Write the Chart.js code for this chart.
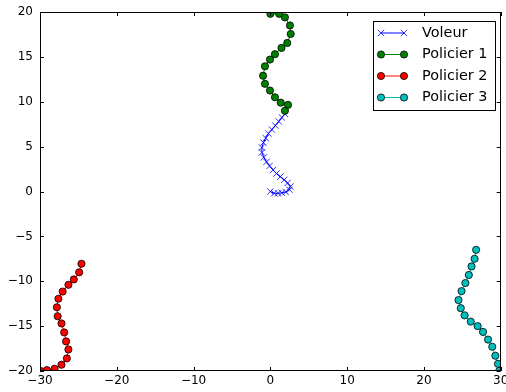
<!DOCTYPE html>
<html><head><meta charset="utf-8">
<script src="https://cdn.jsdelivr.net/npm/chart.js@4"></script>
<style>html,body{margin:0;padding:0;background:#fff;}</style>
</head><body>
<canvas id="c" width="506" height="392" style="display:block;width:506px;height:392px"></canvas>
<script>
const seriesNames = ['Voleur', 'Policier 1', 'Policier 2', 'Policier 3'];

const voleurX = [0, 0.5, 1.0, 1.5, 2.0, 2.5, 2.6, 2.25, 1.8, 1.3, 0.8, 0.35, -0.1, -0.5, -0.85, -1.1, -1.1, -0.9, -0.6, -0.25, 0.2, 0.65, 1.1, 1.5, 1.9];
const voleurY = [0, -0.2, -0.2, -0.15, -0.05, 0.2, 0.55, 0.95, 1.3, 1.65, 2.0, 2.4, 2.85, 3.3, 3.8, 4.35, 4.9, 5.45, 5.95, 6.45, 6.9, 7.35, 7.8, 8.25, 8.65];

const policier1X = [0.0, 1.15, 1.9, 2.55, 2.65, 2.2, 1.45, 0.6, -0.05, -0.7, -0.95, -0.7, -0.05, 0.6, 1.35, 2.3, 1.9];
const policier1Y = [19.8, 19.8, 19.4, 18.5, 17.55, 16.55, 16.0, 15.3, 14.7, 13.95, 12.9, 12.0, 11.25, 10.5, 9.9, 9.65, 9.0];

const policier2X = [-24.6, -24.9, -25.6, -26.3, -27.05, -27.6, -27.8, -27.7, -27.2, -26.85, -26.6, -26.3, -26.5, -27.2, -28.1, -29.1, -29.9];
const policier2Y = [-8.05, -9.0, -9.8, -10.4, -11.15, -11.95, -12.9, -13.9, -14.7, -15.7, -16.7, -17.6, -18.6, -19.3, -19.75, -19.9, -20.0];

const policier3X = [26.8, 26.6, 26.2, 25.85, 25.4, 24.9, 24.5, 24.8, 25.3, 26.1, 27.0, 27.7, 28.35, 28.9, 29.3, 29.65, 29.8];
const policier3Y = [-6.5, -7.5, -8.35, -9.3, -10.2, -11.1, -12.1, -13.0, -13.8, -14.5, -15.0, -15.65, -16.5, -17.3, -18.3, -19.2, -20.0];

const xTicks = [-30, -20, -10, 0, 10, 20, 30];
const yTicks = [-20, -15, -10, -5, 0, 5, 10, 15, 20];

const colors = ['#0000ff', '#008000', '#ff0000', '#00bfbf'];

function pts(xs, ys) { return xs.map((x, i) => ({ x: x, y: ys[i] })); }
function fmt(v) { return v < 0 ? '\u2212' + Math.abs(v) : String(v); }

const circleDs = (label, data, color) => ({
  label, data, showLine: true, borderColor: color, borderWidth: 1,
  pointStyle: 'circle', pointRadius: 3.6, pointHoverRadius: 3.6,
  pointBackgroundColor: color, pointBorderColor: '#000', pointBorderWidth: 0.8,
  clip: 0, order: 0
});

const datasets = [
  { label: seriesNames[0], data: pts(voleurX, voleurY), showLine: true, borderColor: colors[0], borderWidth: 1,
    pointStyle: 'crossRot', pointRadius: 4.5, pointHoverRadius: 4.5, pointBorderColor: colors[0], pointBorderWidth: 0.8,
    clip: 0, order: 1 },
  circleDs(seriesNames[1], pts(policier1X, policier1Y), colors[1]),
  circleDs(seriesNames[2], pts(policier2X, policier2Y), colors[2]),
  circleDs(seriesNames[3], pts(policier3X, policier3Y), colors[3])
];

const framePlugin = {
  id: 'frame',
  afterDatasetsDraw(chart) {
    const { ctx, chartArea: a, scales: { x, y } } = chart;
    ctx.save();
    ctx.strokeStyle = '#000';
    ctx.lineWidth = 1;
    ctx.beginPath();
    xTicks.forEach(v => {
      const px = Math.round(x.getPixelForValue(v)) + 0.5;
      ctx.moveTo(px, a.bottom); ctx.lineTo(px, a.bottom - 4);
      ctx.moveTo(px, a.top); ctx.lineTo(px, a.top + 4);
    });
    yTicks.forEach(v => {
      const py = Math.round(y.getPixelForValue(v)) + 0.5;
      ctx.moveTo(a.left, py); ctx.lineTo(a.left + 4, py);
      ctx.moveTo(a.right, py); ctx.lineTo(a.right - 4, py);
    });
    ctx.stroke();
    ctx.strokeRect(Math.round(a.left) + 0.5, Math.round(a.top) + 0.5, Math.round(a.right - a.left) - 1, Math.round(a.bottom - a.top) - 1);
    ctx.restore();
  },
  afterDraw(chart) {
    const { ctx, chartArea: a } = chart;
    const left = Math.round(a.right) - 128, right = Math.round(a.right) - 6;
    const top = Math.round(a.top) + 9, bottom = Math.round(a.top) + 98;
    ctx.save();
    ctx.fillStyle = '#fff';
    ctx.fillRect(left, top, right - left, bottom - top);
    ctx.strokeStyle = '#000';
    ctx.lineWidth = 1;
    ctx.strokeRect(left + 0.5, top + 0.5, right - left, bottom - top);
    chart.data.datasets.forEach((ds, i) => {
      const cy = top + 12 + i * 21.5;
      const x1 = left + 8, x2 = left + 31;
      ctx.strokeStyle = ds.borderColor;
      ctx.lineWidth = 1;
      ctx.beginPath(); ctx.moveTo(x1, cy); ctx.lineTo(x2, cy); ctx.stroke();
      [x1, x2].forEach(mx => {
        if (ds.pointStyle === 'crossRot') {
          const r = ds.pointRadius * Math.SQRT1_2;
          ctx.strokeStyle = ds.pointBorderColor;
          ctx.lineWidth = ds.pointBorderWidth;
          ctx.beginPath();
          ctx.moveTo(mx - r, cy - r); ctx.lineTo(mx + r, cy + r);
          ctx.moveTo(mx - r, cy + r); ctx.lineTo(mx + r, cy - r);
          ctx.stroke();
        } else {
          ctx.fillStyle = ds.pointBackgroundColor;
          ctx.strokeStyle = ds.pointBorderColor;
          ctx.lineWidth = ds.pointBorderWidth;
          ctx.beginPath(); ctx.arc(mx, cy, ds.pointRadius, 0, Math.PI * 2);
          ctx.fill(); ctx.stroke();
        }
      });
      ctx.fillStyle = '#000';
      ctx.font = '14.4px "DejaVu Sans"';
      ctx.textBaseline = 'middle';
      ctx.textAlign = 'left';
      ctx.fillText(ds.label, left + 49, cy);
    });
    ctx.restore();
  }
};

new Chart(document.getElementById('c'), {
  type: 'scatter',
  data: { datasets },
  plugins: [framePlugin],
  options: {
    responsive: false,
    animation: false,
    devicePixelRatio: 1,
    layout: { padding: { top: 12, right: 5, left: 0, bottom: 0 } },
    plugins: { legend: { display: false }, tooltip: { enabled: false } },
    scales: {
      x: {
        type: 'linear', min: -30, max: 30,
        afterBuildTicks: s => { s.ticks = xTicks.map(v => ({ value: v })); },
        ticks: { callback: fmt, color: '#000', padding: 3, maxRotation: 0, autoSkip: false,
                 font: { family: 'DejaVu Sans', size: 12 } },
        grid: { display: false, drawTicks: false },
        border: { display: false },
        afterFit: s => { s.height = 21; s.paddingLeft = 0; s.paddingRight = 0; }
      },
      y: {
        type: 'linear', min: -20, max: 20,
        afterBuildTicks: s => { s.ticks = yTicks.map(v => ({ value: v })); },
        ticks: { callback: fmt, color: '#000', padding: 7, autoSkip: false,
                 font: { family: 'DejaVu Sans', size: 12 } },
        grid: { display: false, drawTicks: false },
        border: { display: false },
        afterFit: s => { s.width = 40; s.paddingTop = 0; s.paddingBottom = 0; }
      }
    }
  }
});
</script>
</body></html>
